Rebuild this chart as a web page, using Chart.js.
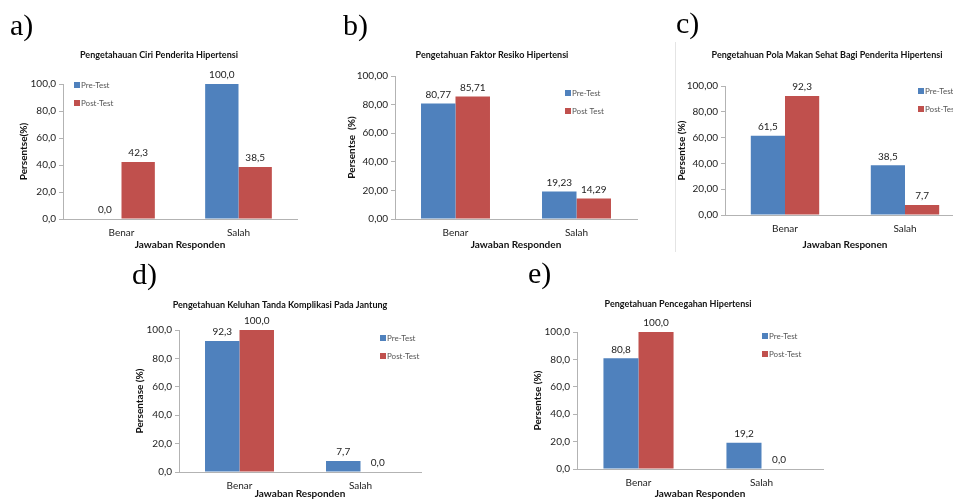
<!DOCTYPE html>
<html>
<head>
<meta charset="utf-8">
<script src="https://cdn.jsdelivr.net/npm/chart.js@4.4.0/dist/chart.umd.min.js"></script>
<style>
  html, body { margin: 0; padding: 0; background: #fff; width: 953px; height: 499px; overflow: hidden; }
  body { position: relative; }
  canvas { position: absolute; left: 0; top: 0; }
  .frame { position: absolute; left: 675px; top: 42px; width: 1px; height: 210px; background: #e4e4e4; }
</style>
</head>
<body>
<div class="frame"></div>
<canvas id="chartA"></canvas>
<canvas id="chartB"></canvas>
<canvas id="chartC"></canvas>
<canvas id="chartD"></canvas>
<canvas id="chartE"></canvas>
<script>
// data
const categories = ['Benar', 'Salah'];
const yTicks = [0, 20, 40, 60, 80, 100];

const preA = [0.0, 100.0];
const postA = [42.3, 38.5];
const preB = [80.77, 19.23];
const postB = [85.71, 14.29];
const preC = [61.5, 38.5];
const postC = [92.3, 7.7];
const preD = [92.3, 7.7];
const postD = [100.0, 0.0];
const preE = [80.8, 19.2];
const postE = [100.0, 0.0];

const W = 1000, H = 499;
const BLUE = '#4f81bd', RED = '#c0504d';
const AXIS = '#b3b3b3';
const FONT = 'Lato, "Open Sans", sans-serif';

function fmt(v, d) {
  return v.toFixed(d).replace('.', ',');
}

// panel texts + where they go
const panels = [
  {
    id: 'chartA', tag: 'a)', tagX: 10, tagY: 35,
    title: 'Pengetahauan Ciri Penderita Hipertensi', titleX: 159, titleY: 55,
    pre: preA, post: postA, names: ['Pre-Test', 'Post-Test'],
    area: { left: 63, right: 297, top: 84, bottom: 219 },
    legX: 74, legY: 85,
    yTitle: 'Persentse(%)', yTitleX: 24,
    xTitle: 'Jawaban Responden', xTitleY: 245,
    tickDec: 1, labelDec: 1
  },
  {
    id: 'chartB', tag: 'b)', tagX: 343, tagY: 35,
    title: 'Pengetahuan Faktor Resiko Hipertensi', titleX: 492, titleY: 55,
    pre: preB, post: postB, names: ['Pre-Test', 'Post Test'],
    area: { left: 395, right: 637, top: 76, bottom: 219 },
    legX: 565, legY: 93,
    yTitle: 'Persentse  (%)', yTitleX: 352,
    xTitle: 'Jawaban Responden', xTitleY: 245,
    tickDec: 2, labelDec: 2
  },
  {
    id: 'chartC', tag: 'c)', tagX: 676, tagY: 33,
    title: 'Pengetahuan Pola Makan Sehat Bagi Penderita Hipertensi', titleX: 827, titleY: 55,
    pre: preC, post: postC, names: ['Pre-Test', 'Post-Test'],
    area: { left: 725, right: 965, top: 86, bottom: 215 },
    legX: 918, legY: 91,
    yTitle: 'Persentse (%)', yTitleX: 682,
    xTitle: 'Jawaban Responen', xTitleY: 245,
    tickDec: 2, labelDec: 1
  },
  {
    id: 'chartD', tag: 'd)', tagX: 132, tagY: 284,
    title: 'Pengetahuan Keluhan Tanda Komplikasi Pada Jantung', titleX: 280, titleY: 305,
    pre: preD, post: postD, names: ['Pre-Test', 'Post-Test'],
    area: { left: 179, right: 421, top: 330, bottom: 472 },
    legX: 380, legY: 338,
    yTitle: 'Persentase (%)', yTitleX: 140,
    xTitle: 'Jawaban Responden', xTitleY: 494,
    tickDec: 1, labelDec: 1
  },
  {
    id: 'chartE', tag: 'e)', tagX: 528, tagY: 283,
    title: 'Pengetahuan Pencegahan Hipertensi', titleX: 678, titleY: 304,
    pre: preE, post: postE, names: ['Pre-Test', 'Post-Test'],
    area: { left: 577, right: 823, top: 332, bottom: 469 },
    legX: 762, legY: 336,
    yTitle: 'Persentse (%)', yTitleX: 538,
    xTitle: 'Jawaban Responden', xTitleY: 494,
    tickDec: 1, labelDec: 1
  }
];

const Y_AXIS_W = 40;
const X_AXIS_H = 22;

// draws panel letter, title, legend, axis titles and the value labels
const decorPlugin = {
  id: 'decor',
  afterDatasetsDraw(chart, args, p) {
    const ctx = chart.ctx;
    const area = chart.chartArea;
    ctx.save();

    ctx.fillStyle = '#000';
    ctx.font = '30px "Liberation Serif", serif';
    ctx.textAlign = 'left';
    ctx.textBaseline = 'alphabetic';
    ctx.fillText(p.tag, p.tagX, p.tagY);

    ctx.font = 'bold 9px ' + FONT;
    ctx.textAlign = 'center';
    ctx.textBaseline = 'middle';
    ctx.fillStyle = '#111';
    ctx.fillText(p.title, p.titleX, p.titleY);

    // value labels on top of bars
    ctx.font = '10px ' + FONT;
    ctx.fillStyle = '#222';
    ctx.textBaseline = 'bottom';
    chart.data.datasets.forEach((ds, di) => {
      chart.getDatasetMeta(di).data.forEach((bar, i) => {
        ctx.fillText(fmt(ds.data[i], p.labelDec), bar.x, bar.y - 4);
      });
    });

    // legend inside plot
    ctx.font = '8px ' + FONT;
    ctx.textAlign = 'left';
    ctx.textBaseline = 'middle';
    chart.data.datasets.forEach((ds, di) => {
      const y = p.legY + di * 18;
      ctx.fillStyle = ds.backgroundColor;
      ctx.fillRect(p.legX, y - 3, 6, 6);
      ctx.fillStyle = '#555';
      ctx.fillText(ds.label, p.legX + 7, y);
    });

    // axis titles
    ctx.fillStyle = '#111';
    ctx.font = 'bold 10px ' + FONT;
    ctx.textAlign = 'center';
    ctx.fillText(p.xTitle, (area.left + area.right) / 2, p.xTitleY);
    ctx.translate(p.yTitleX, (area.top + area.bottom) / 2);
    ctx.rotate(-Math.PI / 2);
    ctx.fillText(p.yTitle, 0, 0);

    ctx.restore();
  }
};

function makeChart(p) {
  const canvas = document.getElementById(p.id);
  canvas.width = W;
  canvas.height = H;
  canvas.style.width = W + 'px';
  canvas.style.height = H + 'px';

  return new Chart(canvas.getContext('2d'), {
    type: 'bar',
    data: {
      labels: categories,
      datasets: [
        { label: p.names[0], data: p.pre, backgroundColor: BLUE },
        { label: p.names[1], data: p.post, backgroundColor: RED }
      ]
    },
    options: {
      responsive: false,
      animation: false,
      devicePixelRatio: 1,
      layout: {
        padding: {
          left: p.area.left - Y_AXIS_W,
          right: W - p.area.right,
          top: p.area.top,
          bottom: H - p.area.bottom - X_AXIS_H
        }
      },
      datasets: {
        bar: { categoryPercentage: 0.57, barPercentage: 1.0, borderWidth: 0 }
      },
      plugins: {
        legend: { display: false },
        title: { display: false },
        tooltip: { enabled: false },
        decor: p
      },
      scales: {
        x: {
          grid: { display: true, drawOnChartArea: false, drawTicks: false },
          border: { color: AXIS, width: 1 },
          ticks: { color: '#222', font: { family: FONT, size: 10 }, padding: 8 },
          afterFit(scale) { scale.height = X_AXIS_H; }
        },
        y: {
          min: 0,
          max: 100,
          afterBuildTicks(scale) { scale.ticks = yTicks.map(v => ({ value: v })); },
          grid: { drawOnChartArea: false, drawTicks: true, tickLength: 4, color: AXIS },
          border: { color: AXIS, width: 1 },
          ticks: {
            color: '#222',
            font: { family: FONT, size: 10 },
            padding: 3,
            callback: v => fmt(v, p.tickDec)
          },
          afterFit(scale) { scale.width = Y_AXIS_W; }
        }
      }
    },
    plugins: [decorPlugin]
  });
}

panels.forEach(makeChart);
</script>
</body>
</html>
